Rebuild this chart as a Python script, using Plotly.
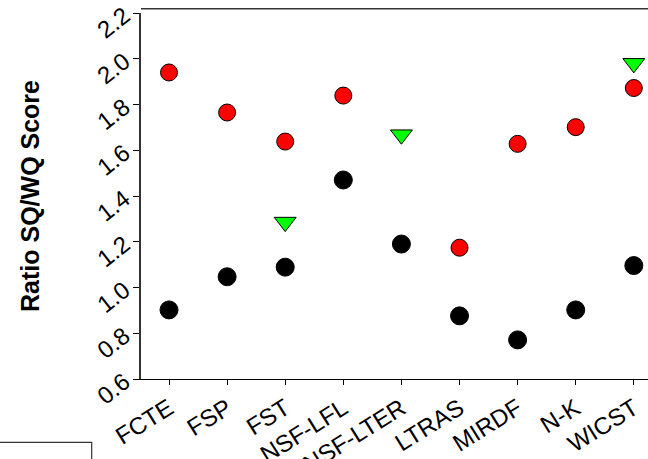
import plotly.graph_objects as go

categories = ["FCTE", "FSP", "FST", "NSF-LFL", "NSF-LTER", "LTRAS", "MIRDF", "N-K", "WICST"]
red_values = [1.94, 1.765, 1.638, 1.839, None, 1.174, 1.628, 1.701, 1.872]
black_values = [0.902, 1.047, 1.089, 1.47, 1.19, 0.876, 0.771, 0.902, 1.096]
green_values = [None, None, 1.286, None, 1.668, None, None, None, 1.98]
y_ticks = [0.6, 0.8, 1.0, 1.2, 1.4, 1.6, 1.8, 2.0, 2.2]

x_idx = list(range(len(categories)))

fig = go.Figure()
fig.add_trace(go.Scatter(
    x=x_idx, y=black_values, mode="markers",
    marker=dict(symbol="circle", size=18, color="black", line=dict(color="black", width=1)),
    showlegend=False))
fig.add_trace(go.Scatter(
    x=x_idx, y=red_values, mode="markers",
    marker=dict(symbol="circle", size=17, color="#FF0000", line=dict(color="black", width=1)),
    showlegend=False))
fig.add_trace(go.Scatter(
    x=x_idx, y=green_values, mode="markers",
    marker=dict(symbol="triangle-down", size=19, color="#00FF00", line=dict(color="black", width=1)),
    showlegend=False))

W, H = 648, 459
L, R, T, B = 141, 0, 13.3, 80
pw = W - L - R
ph = H - T - B

fig.update_layout(
    width=W, height=H,
    margin=dict(l=L, r=R, t=T, b=B, pad=0, autoexpand=False),
    paper_bgcolor="white", plot_bgcolor="white",
    font=dict(family="Liberation Sans, Arial, sans-serif", color="black"),
    xaxis=dict(
        range=[-0.482, 8.244], automargin=False,
        tickmode="array", tickvals=x_idx, ticktext=categories,
        tickangle=-32, tickfont=dict(size=24),
        ticks="outside", ticklen=5, tickwidth=1, tickcolor="black",
        showline=True, linecolor="black", linewidth=1,
        showgrid=False, zeroline=False,
    ),
    yaxis=dict(
        range=[0.6, 2.2], automargin=False,
        tickmode="array", tickvals=y_ticks, ticktext=[f"{v:.1f}" for v in y_ticks],
        tickangle=-38, tickfont=dict(size=24),
        ticks="outside", ticklen=6, tickwidth=1, tickcolor="black",
        ticklabelstandoff=4,
        showline=True, linecolor="#333333", linewidth=1.5,
        showgrid=False, zeroline=False,
        title=dict(text="<b>Ratio SQ/WQ Score</b>", font=dict(size=25), standoff=45),
    ),
    shapes=[
        dict(type="line", xref="paper", yref="paper",
             x0=0, x1=1.01, y0=1 + 4.3 / ph, y1=1 + 4.3 / ph,
             line=dict(color="#333333", width=1.5)),
        dict(type="rect", xref="paper", yref="paper",
             x0=(-10 - L) / pw, x1=(91.7 - L) / pw,
             y0=(-(H - T) - 10) / ph + 1, y1=(ph - (442.3 - T)) / ph,
             line=dict(color="#333333", width=1.2), fillcolor="rgba(0,0,0,0)"),
    ],
)

fig.write_html("out.html")
